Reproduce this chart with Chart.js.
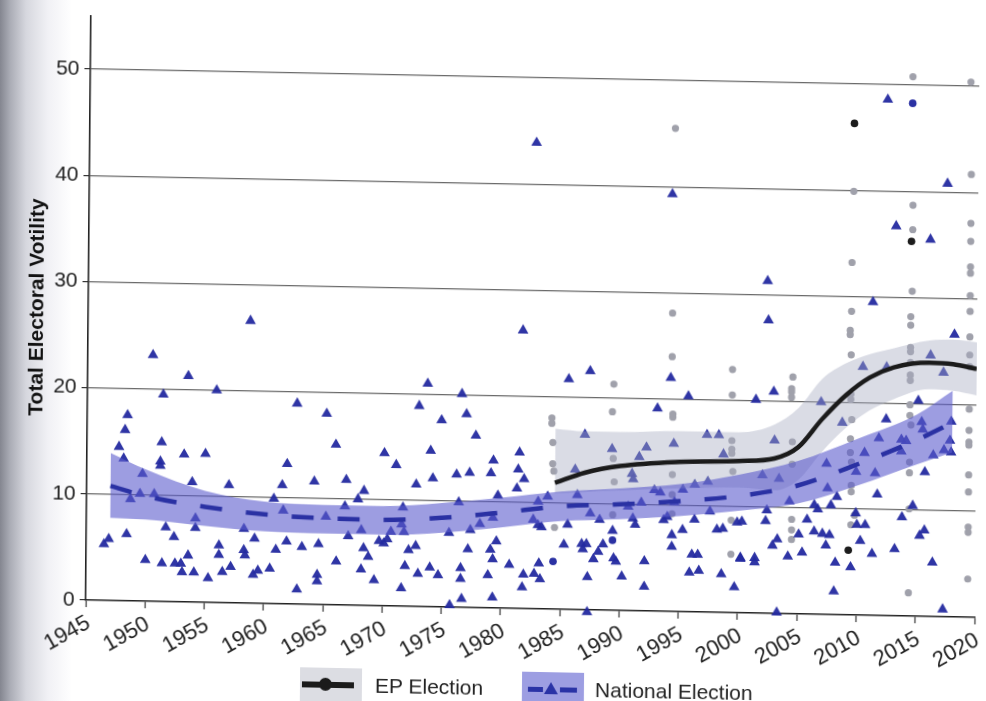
<!DOCTYPE html>
<html>
<head>
<meta charset="utf-8">
<script src="https://cdn.jsdelivr.net/npm/chart.js@4"></script>
<style>
  html, body { margin: 0; padding: 0; width: 986px; height: 701px; overflow: hidden; }
  body {
    background: linear-gradient(to right, rgb(132,134,144) 0px, rgb(170,172,181) 10px,
      rgb(214,215,222) 26px, rgb(241,241,245) 48px, #fff 72px);
    font-family: "Liberation Sans", Arial, sans-serif;
  }
  /* the printed page sits slightly skewed */
  #page { position: absolute; left: 0; top: 0; width: 986px; height: 701px;
          transform: matrix(1, 0.0195, -0.009, 1, 0, 0); transform-origin: 493px 350px; }
  #chart { position: absolute; left: 0; top: 0; }
  .key { position: absolute; top: 671px; width: 62px; height: 34px; }
  .key.ep { left: 303px; background: #dcdde3; }
  .key.nat { left: 525px; background: #9d9ee2; }
  .ep .bar { position: absolute; left: 2px; top: 14px; width: 52px; height: 6px; background: #1b1b1b; }
  .ep .dot { position: absolute; left: 19px; top: 10px; width: 13px; height: 13px; border-radius: 50%; background: #1b1b1b; }
  .nat .dash { position: absolute; top: 15px; height: 5px; background: #2a33a6; }
  .nat .tri { position: absolute; left: 22px; top: 10px; width: 0; height: 0;
              border-left: 7px solid transparent; border-right: 7px solid transparent;
              border-bottom: 12px solid #2a33a6; }
  .lab { position: absolute; top: 675px; font-size: 21px; line-height: 25px; color: #222; white-space: nowrap; }
</style>
</head>
<body>
<div id="page">
  <canvas id="chart" width="986" height="701"></canvas>
  <div class="key ep"><div class="bar"></div><div class="dot"></div></div>
  <div class="lab" style="left:378px">EP Election</div>
  <div class="key nat"><div class="dash" style="left:6px;width:15px"></div><div class="tri"></div><div class="dash" style="left:38px;width:17px"></div></div>
  <div class="lab" style="left:598px">National Election</div>
</div>
<script>
// Axis ticks
const yearTicks = [1945, 1950, 1955, 1960, 1965, 1970, 1975, 1980, 1985, 1990, 1995, 2000, 2005, 2010, 2015, 2020];
const voteTicks = [0, 10, 20, 30, 40, 50];

// National elections: year and total volatility
const natYears = [
  1946.5, 1946.9, 1947.7, 1948.2, 1948.4, 1948.1, 1948.4, 1950.5, 1951.4, 1951.3,
  1951.2, 1951.2, 1949.7, 1948.7, 1949.5, 1950.7, 1950.0, 1951.4, 1953.5, 1955.9,
  1953.2, 1955.0, 1953.9, 1954.2, 1954.2, 1951.7, 1952.4, 1952.5, 1953.0, 1953.6,
  1953.1, 1954.1, 1955.3, 1956.2, 1956.2, 1956.5, 1957.2, 1957.0, 1958.3, 1958.3,
  1958.4, 1959.2, 1959.1, 1959.5, 1960.5, 1961.0, 1961.5, 1961.9, 1960.8, 1961.6,
  1961.9, 1962.8, 1962.7, 1963.2, 1964.2, 1964.6, 1964.5, 1964.5, 1965.2, 1965.2,
  1966.0, 1966.9, 1967.9, 1968.4, 1966.8, 1967.1, 1966.1, 1968.2, 1968.4, 1968.8,
  1969.3, 1968.2, 1969.7, 1970.1, 1970.4, 1970.1, 1971.1, 1970.7, 1971.6, 1971.8,
  1971.7, 1971.9, 1971.6, 1972.2, 1972.8, 1972.8, 1973.0, 1973.0, 1973.7, 1974.0,
  1974.2, 1974.0, 1974.7, 1974.9, 1975.6, 1975.7, 1976.6, 1977.0, 1976.2, 1976.4,
  1977.4, 1977.2, 1976.6, 1976.6, 1976.7, 1977.8, 1978.2, 1977.3, 1979.1, 1979.3,
  1979.3, 1979.7, 1979.6, 1979.1, 1979.3, 1978.9, 1979.3, 1980.7, 1981.5, 1981.4,
  1981.9, 1981.3, 1981.7, 1981.9, 1981.8, 1982.8, 1983.2, 1983.3, 1982.7, 1983.1,
  1983.4, 1983.1, 1983.9, 1985.6, 1987.4, 1987.0, 1986.2, 1986.4, 1985.6, 1985.3,
  1986.8, 1986.9, 1987.2, 1987.3, 1987.3, 1987.5, 1988.3, 1987.8, 1988.2, 1988.6,
  1989.3, 1989.5, 1989.7, 1990.2, 1990.7, 1991.1, 1991.3, 1992.1, 1992.1, 1991.6,
  1992.2, 1991.8, 1991.0, 1991.1, 1993.1, 1992.9, 1994.2, 1995.7, 1994.2, 1997.3,
  1998.3, 1998.7, 1996.3, 1997.4, 1997.6, 1993.4, 1995.3, 1994.6, 1993.7, 1996.3,
  1995.3, 1994.4, 1996.1, 1996.6, 1995.9, 1996.7, 1998.6, 1999.7, 1998.2, 1998.7,
  2000.2, 2001.4, 2002.9, 2003.0, 2006.9, 2010.4, 2012.4, 2015.1, 2016.1, 2017.2,
  2008.7, 2012.4, 2011.8, 2013.7, 2014.1, 2015.4, 2015.5, 2017.9, 2017.8, 2017.3,
  2017.9, 2016.4, 2015.7, 2011.7, 2010.6, 2009.9, 2011.5, 2007.4, 2007.5, 2008.3,
  2007.8, 2006.4, 2006.7, 2009.9, 2010.0, 2010.7, 2010.3, 2011.3, 2013.2, 2013.8,
  2014.7, 2015.3, 2015.7, 2016.4, 2017.3, 2008.2, 2009.5, 2008.1, 2007.4, 2007.1,
  2007.7, 2006.4, 2005.8, 2005.1, 2005.4, 2004.2, 2004.3, 2003.4, 2002.4, 2002.9,
  2003.3, 2002.3, 2000.3, 1999.9, 2001.4, 2001.4, 2000.2, 2003.3, 1994.0, 2002.3,
  2002.4, 2011.2, 2018.1, 2012.3, 2017.4, 2013.1, 2016.0, 1982.7, 1958.7, 2002.0,
  2013.7, 1989.4, 1994.4, 1994.5
];
const natVotes = [
  5.3, 5.8, 14.5, 16.1, 17.5, 13.4, 6.3, 23.2, 19.5, 15.0,
  13.2, 12.8, 12.0, 9.6, 10.1, 10.1, 3.9, 3.6, 21.3, 20.0,
  13.9, 14.0, 11.3, 7.9, 7.0, 7.0, 6.1, 3.6, 3.6, 4.4,
  2.8, 2.8, 2.3, 5.4, 4.5, 2.9, 3.4, 11.1, 7.0, 5.0,
  4.5, 6.1, 2.7, 3.1, 3.3, 5.1, 11.2, 13.2, 9.9, 8.8,
  5.9, 1.4, 18.9, 5.4, 11.6, 5.7, 2.8, 2.2, 18.0, 8.3,
  15.1, 11.8, 10.0, 10.8, 9.3, 6.5, 4.1, 3.4, 5.4, 4.6,
  2.4, 7.1, 6.1, 5.9, 6.3, 14.4, 13.3, 7.0, 7.7, 7.0,
  9.3, 3.8, 1.7, 5.3, 5.7, 11.5, 3.1, 18.9, 21.0, 14.7,
  12.1, 3.7, 3.0, 17.6, 7.0, 0.2, 20.1, 18.2, 12.5, 9.9,
  7.3, 5.5, 3.7, 2.7, 0.8, 16.2, 7.9, 12.7, 12.7, 13.9,
  8.5, 10.6, 6.3, 5.5, 4.6, 3.1, 1.0, 4.1, 14.7, 13.1,
  12.2, 11.3, 26.2, 3.2, 2.0, 3.3, 4.3, 2.8, 8.4, 7.9,
  7.7, 10.1, 10.6, 21.7, 22.5, 16.5, 13.2, 10.8, 8.0, 6.1,
  6.2, 5.7, 6.2, 3.1, -0.2, 9.1, 8.5, 4.8, 5.5, 6.2,
  15.2, 4.9, 4.6, 3.2, 9.8, 8.7, 8.1, 2.3, 4.7, 14.5,
  15.4, 10.2, 12.9, 12.4, 19.1, 11.4, 22.0, 20.3, 39.3, 16.7,
  16.7, 14.9, 12.0, 12.3, 9.5, 11.2, 11.5, 10.3, 8.6, 8.7,
  7.7, 6.1, 5.4, 5.4, 3.7, 3.9, 3.6, 2.4, 7.8, 7.9,
  5.1, 20.1, 20.9, 16.3, 20.0, 23.4, 23.4, 20.3, 24.6, 23.0,
  18.1, 18.5, 16.7, 16.6, 16.5, 18.3, 17.6, 18.4, 16.6, 15.7,
  15.5, 15.2, 13.6, 11.4, 15.3, 13.5, 13.4, 14.2, 11.9, 11.1,
  10.3, 10.3, 9.9, 9.6, 8.5, 8.5, 7.0, 5.8, 6.3, 9.3,
  10.4, 7.6, 8.1, 5.1, 0.7, 4.9, 4.5, 2.2, 6.5, 7.6,
  7.5, 7.8, 8.9, 7.5, 5.8, 5.4, 10.6, 12.7, 9.7, 6.4,
  7.0, 8.7, 8.6, 8.5, 5.2, 4.8, 5.2, 0.1, 8.9, 31.3,
  27.6, 29.5, 26.6, 48.6, 40.8, 36.7, 35.5, 43.9, 26.6, 13.0,
  15.5, 7.5, 7.2, 15.8
];

// A few national results drawn as dots
const natDotYears = [2014.4, 1984.4, 1989.4];
const natDotVotes = [48.3, 4.5, 6.6];

// European Parliament elections: year and total volatility
const epYears = [
  1984.2, 1984.2, 1984.3, 1984.3, 1984.4, 1984.5,
  1989.4, 1989.3, 1989.4, 1989.5, 1989.4,
  1994.3, 1994.3, 1994.4, 1994.4, 1994.4, 1994.4, 1994.4, 1994.4,
  1999.4, 1999.4, 1999.4, 1999.4, 1999.4, 1999.5, 1999.4, 1999.4,
  2004.5, 2004.4, 2004.4, 2004.4, 2004.5, 2004.5, 2004.5, 2004.5, 2004.5,
  2009.5, 2009.4, 2009.4, 2009.3, 2009.3, 2009.4, 2009.4, 2009.4, 2009.5, 2009.4,
  2009.4, 2009.5, 2009.5, 2009.5, 2009.8, 2009.5,
  2014.4, 2014.5, 2014.5, 2014.5, 2014.4, 2014.4, 2014.4, 2014.4, 2014.4, 2014.4,
  2014.4, 2014.4, 2014.4, 2014.5, 2014.4, 2014.4, 2014.4, 2014.4,
  2019.3, 2019.4, 2019.4, 2019.4, 2019.4, 2019.4, 2019.4, 2019.4, 2019.4, 2019.4,
  2019.4, 2019.4, 2019.4, 2019.4, 2019.4, 2019.4, 2019.4, 2019.4, 2019.4, 2019.4
];
const epVotes = [
  18.0, 17.5, 15.7, 13.7, 13.0, 7.7,
  21.3, 18.7, 14.3, 12.1, 9.0,
  28.1, 24.0, 18.6, 18.3, 12.9, 11.0, 9.2, 45.5,
  22.9, 20.5, 16.2, 15.4, 15.0, 13.3, 8.7, 5.5,
  22.3, 21.2, 20.9, 20.4, 16.2, 14.1, 8.9, 7.9, 7.0,
  39.9, 33.2, 28.6, 26.8, 26.4, 24.5, 20.8, 20.3, 18.4, 16.6,
  15.3, 14.4, 12.2, 11.6, 9.4, 8.5,
  50.8, 38.7, 36.4, 30.6, 28.2, 27.4, 25.3, 24.9, 23.9, 22.7,
  22.2, 19.9, 18.9, 18.0, 14.5, 13.5, 10.1, 2.2,
  50.4, 41.7, 37.1, 35.4, 33.0, 32.4, 30.3, 28.8, 26.4, 24.7,
  23.6, 19.6, 17.6, 16.5, 16.2, 13.4, 11.8, 8.5, 8.0, 3.6
];
const epDarkYears = [2009.5, 2014.4, 2009.3];
const epDarkVotes = [46.3, 35.3, 6.1];

// Smoothed trends with confidence bands
const natFitYears = [1947, 1950, 1955, 1960, 1965, 1970, 1975, 1980, 1985, 1990, 1995, 2000, 2005, 2010, 2015, 2018];
const natFit  = [10.8, 9.9, 9.0, 8.4, 8.15, 8.1, 8.4, 9.0, 9.7, 10.0, 10.4, 11.0, 12.1, 14.2, 16.6, 18.3];
const natHigh = [13.9, 12.4, 10.5, 9.6, 9.4, 9.4, 9.8, 10.4, 11.1, 11.5, 12.0, 13.0, 14.4, 16.6, 19.0, 21.3];
const natLow  = [7.8, 7.7, 7.2, 6.8, 6.7, 6.7, 7.0, 7.6, 8.3, 8.6, 9.0, 9.6, 10.4, 12.2, 14.3, 15.5];

const epFitYears = [1984.5, 1987, 1990, 1995, 2000, 2003, 2005, 2007, 2009, 2011, 2013, 2016, 2018, 2020];
const epFit  = [11.9, 12.9, 13.6, 14.1, 14.3, 14.6, 15.7, 18.4, 20.7, 22.4, 23.4, 23.9, 23.8, 23.4];
const epHigh = [17.0, 16.8, 16.8, 17.0, 17.0, 17.8, 19.4, 22.2, 23.7, 24.6, 25.2, 26.0, 26.1, 25.9];
const epLow  = [10.9, 11.1, 11.3, 11.6, 11.8, 11.6, 12.6, 15.3, 17.6, 19.3, 20.4, 21.4, 21.3, 20.9];

const pairs = (xs, ys) => xs.map((x, i) => ({ x: x, y: ys[i] }));

const NAT_BLUE = '#2a31a3';
const FONT = '"Liberation Sans", Arial, Helvetica, sans-serif';

const curve = {
  showLine: true, pointRadius: 0, pointHoverRadius: 0,
  tension: 0.4, cubicInterpolationMode: 'monotone'
};

new Chart(document.getElementById('chart'), {
  type: 'scatter',
  data: {
    datasets: [
      { label: 'EP Election', data: pairs(epYears, epVotes), order: 9,
        pointStyle: 'circle', pointRadius: 3.6, backgroundColor: '#a0a1ab', borderWidth: 0 },
      { label: 'National Election', data: pairs(natYears, natVotes), order: 8, clip: false,
        pointStyle: 'triangle', pointRadius: 6.2, backgroundColor: 'rgba(36,42,160,0.95)', borderWidth: 0 },
      { label: 'EP dark', data: pairs(epDarkYears, epDarkVotes), order: 7,
        pointStyle: 'circle', pointRadius: 3.8, backgroundColor: '#1c1c1c', borderWidth: 0 },
      { label: 'National dots', data: pairs(natDotYears, natDotVotes), order: 7,
        pointStyle: 'circle', pointRadius: 3.8, backgroundColor: NAT_BLUE, borderWidth: 0 },
      Object.assign({ label: 'EP upper', data: pairs(epFitYears, epHigh), order: 6,
        borderWidth: 0, borderColor: 'rgba(0,0,0,0)', fill: '+1', backgroundColor: 'rgba(168,171,192,0.42)' }, curve),
      Object.assign({ label: 'EP lower', data: pairs(epFitYears, epLow), order: 6,
        borderWidth: 0, borderColor: 'rgba(0,0,0,0)', fill: false }, curve),
      Object.assign({ label: 'National upper', data: pairs(natFitYears, natHigh), order: 5,
        borderWidth: 0, borderColor: 'rgba(0,0,0,0)', fill: '+1', backgroundColor: 'rgba(92,92,205,0.6)' }, curve),
      Object.assign({ label: 'National lower', data: pairs(natFitYears, natLow), order: 5,
        borderWidth: 0, borderColor: 'rgba(0,0,0,0)', fill: false }, curve),
      Object.assign({ label: 'EP trend', data: pairs(epFitYears, epFit), order: 2,
        borderColor: '#1b1b1b', borderWidth: 4.5, fill: false }, curve),
      Object.assign({ label: 'National trend', data: pairs(natFitYears, natFit), order: 1,
        borderColor: NAT_BLUE, borderWidth: 4.5, borderDash: [22, 24], fill: false }, curve)
    ]
  },
  options: {
    responsive: false,
    animation: false,
    devicePixelRatio: 1,
    events: [],
    layout: { padding: { top: 24, right: 9, bottom: 0, left: 0 } },
    plugins: { legend: { display: false }, tooltip: { enabled: false } },
    scales: {
      x: {
        type: 'linear', min: 1945, max: 2020,
        afterBuildTicks: s => { s.ticks = yearTicks.map(v => ({ value: v })); },
        afterFit: s => { s.height = 93; s.paddingLeft = 0; s.paddingRight = 0; },
        ticks: {
          callback: v => String(v), minRotation: 30, maxRotation: 30, labelOffset: 3,
          color: '#222', padding: 3, font: { family: FONT, size: 22 }
        },
        grid: { drawOnChartArea: false, drawTicks: true, tickLength: 7, tickColor: '#333', tickWidth: 1.2 },
        border: { color: '#222', width: 1.6 }
      },
      y: {
        type: 'linear', min: 0, max: 55,
        afterBuildTicks: s => { s.ticks = voteTicks.map(v => ({ value: v })); },
        afterFit: s => { s.width = 88; s.paddingTop = 0; s.paddingBottom = 0; },
        ticks: { color: '#222', padding: 5, font: { family: FONT, size: 21 } },
        grid: {
          color: c => (c.tick && c.tick.value === 0) ? 'rgba(0,0,0,0)' : '#6a6a6a',
          lineWidth: 1.2, drawTicks: true, tickLength: 6, tickColor: '#333', tickWidth: 1.2
        },
        border: { color: '#222', width: 1.6 },
        title: {
          display: true, text: 'Total Electoral Votility', color: '#111',
          font: { family: FONT, size: 21, weight: 'bold' }, padding: { top: 25, bottom: 0 }
        }
      }
    }
  }
});
</script>
</body>
</html>
